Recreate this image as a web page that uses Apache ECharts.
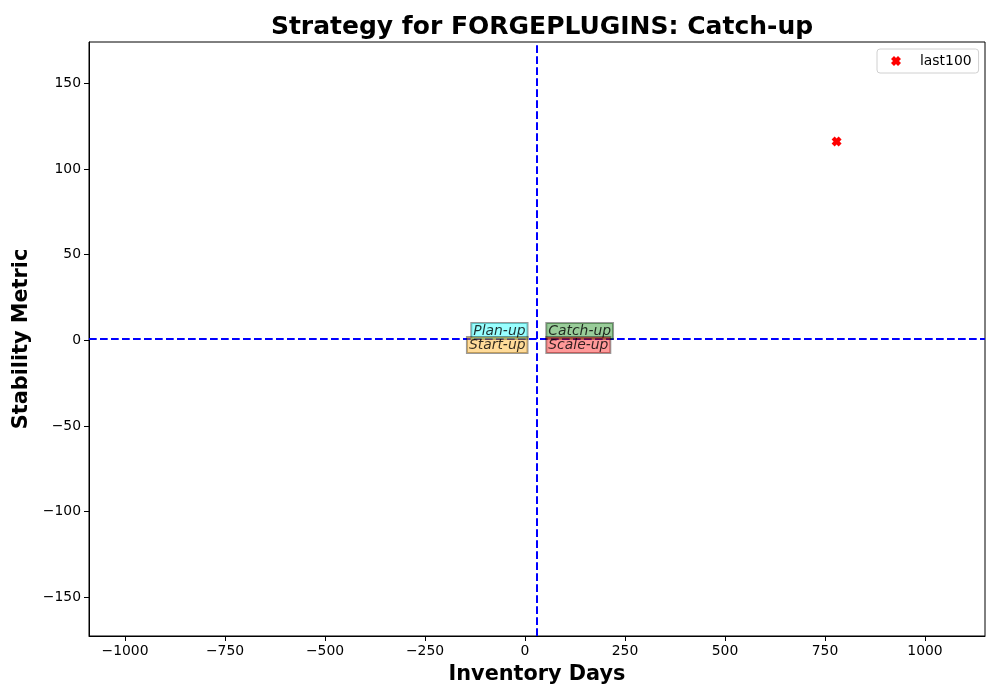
<!DOCTYPE html>
<html>
<head>
<meta charset="utf-8">
<script src="https://cdn.jsdelivr.net/npm/echarts@6/dist/echarts.min.js"></script>
<style>
  html, body { margin: 0; padding: 0; background: #fff; }
  #main { width: 1000px; height: 700px; }
</style>
</head>
<body>
<div id="main"></div>
<script>
// data
var seriesName = 'last100';
var pointX = [779];
var pointY = [116];
var xTicks = [-1000, -750, -500, -250, 0, 250, 500, 750, 1000];
var yTicks = [-150, -100, -50, 0, 50, 100, 150];
var vlineX = 29;
var hlineY = 1;
var quadNames = ['Plan-up', 'Start-up', 'Catch-up', 'Scale-up'];
var quadX = [0, 0, 62, 62];
var quadY = [1, 1, 1, 1];

var xMark = 'path://M0,3 L3,0 L5,2 L7,0 L10,3 L8,5 L10,7 L7,10 L5,8 L3,10 L0,7 L2,5 Z';
var font = 'DejaVu Sans';

function minus(v) { return String(v).replace('-', '\u2212'); }

// quadrant label styles: fill, horizontal side, vertical side
var quadStyle = {
    'Plan-up':  { bg: 'rgba(0,255,255,0.5)',   align: 'right', va: 'bottom' },
    'Start-up': { bg: 'rgba(255,165,0,0.5)',   align: 'right', va: 'top' },
    'Catch-up': { bg: 'rgba(0,128,0,0.5)',     align: 'left',  va: 'bottom' },
    'Scale-up': { bg: 'rgba(255,0,0,0.5)',     align: 'left',  va: 'top' }
};

var quadData = quadNames.map(function (n, i) {
    var s = quadStyle[n];
    return {
        value: [quadX[i], quadY[i]],
        name: n,
        label: {
            show: true,
            formatter: n,
            position: [0, 0],
            align: s.align,
            verticalAlign: s.va,
            offset: [s.align === 'right' ? 3 : -3, s.va === 'bottom' ? 1 : -1],
            backgroundColor: s.bg,
            borderColor: 'rgba(0,0,0,0.5)',
            borderWidth: 1,
            padding: [1, 2, 0, 2],
            color: '#000',
            fontStyle: 'italic',
            fontFamily: font,
            fontSize: 13.9,
            lineHeight: 15
        }
    };
});

var myChart = echarts.init(document.getElementById('main'));
var option = {
    animation: false,
    title: {
        text: 'Strategy for FORGEPLUGINS: Catch-up',
        left: 537,
        textAlign: 'center',
        top: 10,
        textStyle: { fontFamily: font, fontSize: 25, fontWeight: 'bold', color: '#000' }
    },
    legend: {
        data: [{ name: seriesName, icon: xMark }],
        left: 877,
        top: 49,
        orient: 'vertical',
        itemWidth: 10,
        itemHeight: 10,
        padding: [5, 7, 5, 14],
        backgroundColor: '#fff',
        borderColor: '#d0d0d0',
        borderWidth: 1,
        borderRadius: 3,
        textStyle: { fontFamily: font, fontSize: 13.9, color: '#000', padding: [0, 0, 0, 14] }
    },
    grid: {
        left: 89, right: 15, top: 42, bottom: 64,
        show: true,
        borderColor: '#000',
        borderWidth: 1
    },
    xAxis: {
        type: 'value',
        min: -1090,
        max: 1150,
        name: 'Inventory Days',
        nameLocation: 'middle',
        nameGap: 28,
        nameTextStyle: { fontFamily: font, fontSize: 20.8, fontWeight: 'bold', color: '#000' },
        splitLine: { show: false },
        axisLine: { show: true, onZero: false, lineStyle: { color: '#000' } },
        axisTick: { show: true, length: 5, customValues: xTicks, lineStyle: { color: '#000' } },
        axisLabel: {
            customValues: xTicks,
            formatter: minus,
            margin: 8,
            fontFamily: font, fontSize: 13.9, color: '#000'
        }
    },
    yAxis: {
        type: 'value',
        min: -172.6,
        max: 174.1,
        name: 'Stability Metric',
        nameLocation: 'middle',
        nameGap: 53,
        nameTextStyle: { fontFamily: font, fontSize: 20.8, fontWeight: 'bold', color: '#000' },
        splitLine: { show: false },
        axisLine: { show: true, onZero: false, lineStyle: { color: '#000' } },
        axisTick: { show: true, length: 5, customValues: yTicks, lineStyle: { color: '#000' } },
        axisLabel: {
            customValues: yTicks,
            formatter: minus,
            margin: 8,
            fontFamily: font, fontSize: 13.9, color: '#000'
        }
    },
    series: [
        {
            name: seriesName,
            type: 'scatter',
            symbol: xMark,
            symbolSize: 10,
            itemStyle: { color: '#ff0000', opacity: 1 },
            data: pointX.map(function (x, i) { return [x, pointY[i]]; }),
            markLine: {
                silent: true,
                symbol: 'none',
                label: { show: false },
                lineStyle: { color: '#0000ff', type: [7.7, 3.3], width: 2, opacity: 1 },
                data: [{ xAxis: vlineX }, { yAxis: hlineY }]
            },
            z: 3
        },
        {
            name: 'quadrants',
            type: 'scatter',
            symbolSize: 1,
            silent: true,
            itemStyle: { color: 'rgba(0,0,0,0)' },
            data: quadData,
            z: 5
        }
    ]
};
myChart.setOption(option);
</script>
</body>
</html>
